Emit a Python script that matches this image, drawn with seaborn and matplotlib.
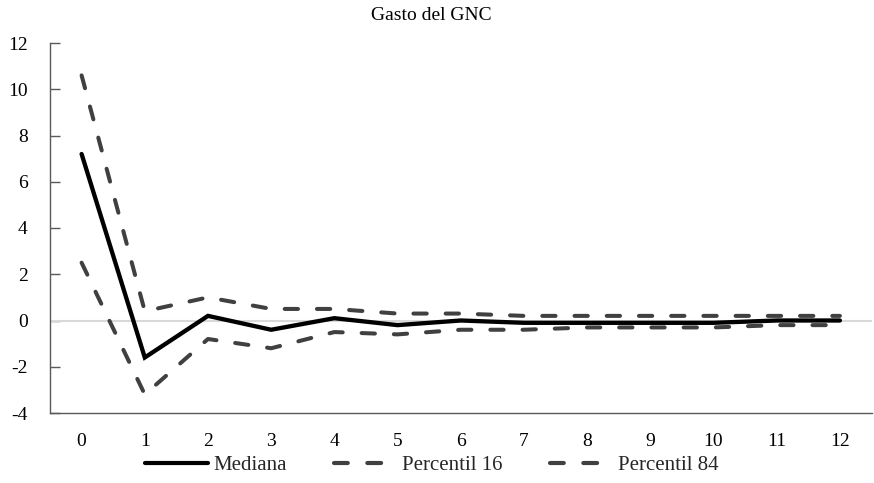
import matplotlib
matplotlib.use("Agg")
import matplotlib.pyplot as plt
import seaborn as sns
import numpy as np
import pandas as pd

periods = list(range(13))
mediana = [7.2, -1.6, 0.2, -0.4, 0.1, -0.2, 0.0, -0.1, -0.1, -0.1, -0.1, 0.0, 0.0]
p16 = [2.5, -3.2, -0.8, -1.2, -0.5, -0.6, -0.4, -0.4, -0.3, -0.3, -0.3, -0.2, -0.2]
p84 = [10.6, 0.4, 1.0, 0.5, 0.5, 0.3, 0.3, 0.2, 0.2, 0.2, 0.2, 0.2, 0.2]
yticks = [-4, -2, 0, 2, 4, 6, 8, 10, 12]
title = "Gasto del GNC"

sns.set_theme(style="white")
plt.rcParams['font.family'] = ['Liberation Serif', 'DejaVu Serif']

fig = plt.figure(figsize=(8.74, 4.83), dpi=100)
ax = fig.add_axes([50/874, 1-413/483, (871.5-50)/874, (413-43)/483])

ax.axhline(0, color="#d9d9d9", lw=1.5, zorder=1)

df = pd.DataFrame({"t": periods, "Mediana": mediana, "Percentil 16": p16, "Percentil 84": p84})
sns.lineplot(data=df, x="t", y="Mediana", color="black", lw=3.1, ax=ax, label="Mediana",
             solid_capstyle="round", solid_joinstyle="miter", zorder=3)
sns.lineplot(data=df, x="t", y="Percentil 16", color="#404040", lw=2.9, ax=ax, label="Percentil 16",
             dash_capstyle="round", zorder=2)
sns.lineplot(data=df, x="t", y="Percentil 84", color="#404040", lw=2.9, ax=ax, label="Percentil 84",
             dash_capstyle="round", zorder=2)
lines = ax.get_lines()
for ln in lines[2:]:
    ln.set_dashes((3.3, 4.7))

ax.set_xlim(-0.5, 12.5)
ax.set_ylim(-4, 12)
ax.set_xticks(periods)
ax.set_xticklabels([str(p) for p in periods])
ax.set_yticks(yticks)
ax.set_yticklabels([str(v) for v in yticks])
ax.set_xlabel("")
ax.set_ylabel("")

for s in ["top", "right"]:
    ax.spines[s].set_visible(False)
for s in ["left", "bottom"]:
    ax.spines[s].set_color("#595959")
    ax.spines[s].set_linewidth(1.0)

ax.tick_params(axis="y", direction="in", length=7.5, width=1, color="#595959", labelsize=14, pad=16, left=True)
ax.tick_params(axis="x", length=0, labelsize=14, pad=14.5)
for lab in ax.get_xticklabels() + ax.get_yticklabels():
    lab.set_color("black")

fig.text(431/874, 1 - 15/483, title, ha="center", va="center", fontsize=14, color="black")

handles, labels = ax.get_legend_handles_labels()
leg = ax.legend(handles, labels, loc="center", bbox_to_anchor=((432-50)/821.5, -0.142), ncol=3, frameon=False,
                fontsize=15, handlelength=3.0, handletextpad=0.25, columnspacing=2.3)
for h in leg.get_lines():
    h.set_linewidth(3.0)

fig.savefig("out.png", dpi=100)
